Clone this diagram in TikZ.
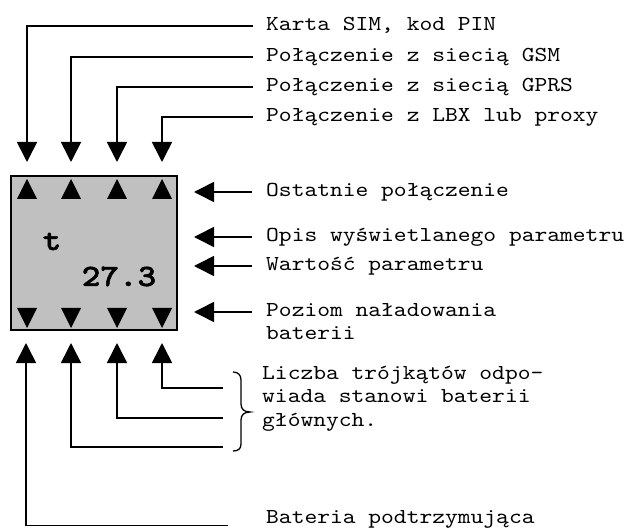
\documentclass[tikz,border=0pt]{standalone}
\usepackage{fontspec}
\newfontfamily\labelfont{lmmono10-regular.otf}[FakeStretch=1.143]
\newfontfamily\boxfont{lmmonolt10-bold.otf}[FakeStretch=1.143, FakeBold=1.6]
\usetikzlibrary{arrows.meta}
\definecolor{boxgray}{HTML}{C0C0C0}
\tikzset{
  lbl/.style={anchor=west, inner sep=0pt, font=\labelfont\fontsize{21.3}{23}\selectfont, text height=13pt, text depth=4pt},
  boxtxt/.style={anchor=base, inner sep=0pt, font=\boxfont\fontsize{31}{31}\selectfont},
  conn/.style={line width=1.6pt, -{Triangle[width=20pt,length=20pt]}},
  bracestyle/.style={line width=1.3pt},
  display/.style={draw=black, line width=2pt, fill=boxgray, minimum width=166pt, minimum height=154pt, inner sep=0pt},
}
\begin{document}
\begin{tikzpicture}[x=1pt,y=-1pt]
\useasboundingbox (0,0) rectangle (629,529);
% display
\node[display] (box) at (94,253) {};
\foreach \x in {27,71,117,162} {
  \fill (\x-10,199) -- (\x,179) -- (\x+10,199) -- cycle;
  \fill (\x-10,308) -- (\x,328) -- (\x+10,308) -- cycle;
}
\node[boxtxt] (tt) at (52,250) {t};
\node[boxtxt] (val) at (119,286) {27.3};
% top labels
\node[lbl] (k1) at (266,26) {Karta SIM, kod PIN};
\node[lbl] (k2) at (266,57) {Połączenie z siecią GSM};
\node[lbl] (k3) at (266,87) {Połączenie z siecią GPRS};
\node[lbl] (k4) at (266,117) {Połączenie z LBX lub proxy};
\coordinate (u1) at (27,162);
\coordinate (u2) at (71,162);
\coordinate (u3) at (117,162);
\coordinate (u4) at (162,162);
\draw[conn] ([xshift=-13pt]k1.west) -| (u1);
\draw[conn] ([xshift=-13pt]k2.west) -| (u2);
\draw[conn] ([xshift=-13pt]k3.west) -| (u3);
\draw[conn] ([xshift=-13pt]k4.west) -| (u4);
% right labels
\node[lbl] (r1) at (266,192) {Ostatnie połączenie};
\node[lbl] (r2) at (266,237) {Opis wyświetlanego parametru};
\node[lbl] (r3) at (266,266) {Wartość parametru};
\node[lbl] (r4) at (266,312) {Poziom naładowania};
\node[lbl] (r4b) at (266,335) {baterii};
\draw[conn] ([xshift=-14pt]r1.west) -- ([xshift=16pt]box.east |- r1.west);
\draw[conn] ([xshift=-14pt]r2.west) -- ([xshift=16pt]box.east |- r2.west);
\draw[conn] ([xshift=-14pt]r3.west) -- ([xshift=16pt]box.east |- r3.west);
\draw[conn] ([xshift=-14pt]r4.west) -- ([xshift=16pt]box.east |- r4.west);
% battery level
\node[lbl] (c1) at (262,374.5) {Liczba trójkątów odpo-};
\node[lbl] (c2) at (262,398) {wiada stanowi baterii};
\node[lbl] (c3) at (262,421.5) {głównych.};
\coordinate (d1) at (26,343);
\coordinate (d2) at (71,343);
\coordinate (d3) at (117,343);
\coordinate (d4) at (162,343);
\coordinate (e2) at (223,447);
\coordinate (e3) at (223,418);
\coordinate (e4) at (223,388);
\draw[conn] (e4) -| (d4);
\draw[conn] (e3) -| (d3);
\draw[conn] (e2) -| (d2);
\draw[bracestyle] (233,372) .. controls (238,372) and (241,375) .. (241,380)
  -- (241,404) .. controls (241,409) and (244,412) .. (250,412)
  .. controls (244,412) and (241,415) .. (241,420)
  -- (241,444) .. controls (241,449) and (238,451) .. (233,451);
% backup battery
\node[lbl] (bat) at (266,519) {Bateria podtrzymująca};
\draw[conn] ([xshift=-38pt,yshift=-6.5pt]bat.west) -| (d1);
\end{tikzpicture}
\end{document}
